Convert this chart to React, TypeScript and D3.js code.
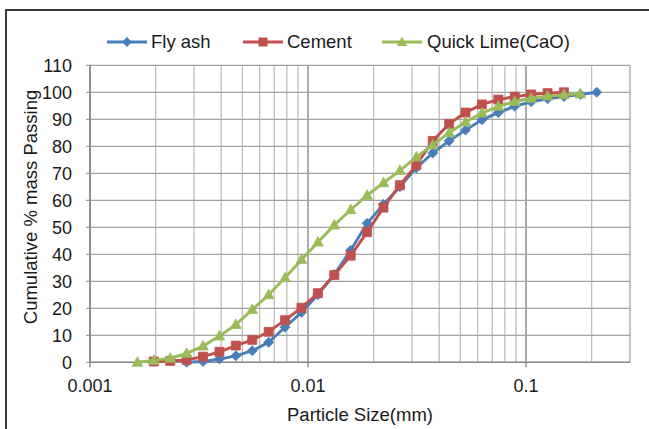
import React from "react";
import * as d3 from "d3";

// Particle sizes (mm) on a quarter-phi progression
const particleSizes = [
  0.00165, 0.001962, 0.002333, 0.002775, 0.0033, 0.003924, 0.004667, 0.00555,
  0.0066, 0.007849, 0.009334, 0.0111, 0.0132, 0.0157, 0.01867, 0.0222, 0.0264,
  0.0314, 0.03734, 0.0444, 0.0528, 0.06279, 0.07467, 0.0888, 0.1056, 0.1256,
  0.1493, 0.1776, 0.2112,
];

// Cumulative % mass passing per size (null = not measured)
const flyAshPassing: (number | null)[] = [
  null, null, null, 0, 0.3, 1.2, 2.4, 4.3, 7.4, 13, 18.5, 25, 32.5, 41.5, 51.5,
  58.5, 65, 72, 77.5, 82, 86, 89.8, 92.5, 94.8, 96.5, 97.6, 98.4, 99.2, 100,
];
const cementPassing: (number | null)[] = [
  null, 0.3, 0.5, 0.9, 2.1, 3.9, 6.2, 8.3, 11.3, 15.6, 20.2, 25.6, 32.3, 39.5,
  48.2, 57.3, 65.6, 73, 82, 88.3, 92.5, 95.5, 97.3, 98.4, 99.2, 99.7, 100,
  null, null,
];
const quickLimePassing: (number | null)[] = [
  0, 0.7, 1.5, 3.3, 6, 9.7, 14, 19.5, 25, 31.3, 38, 44.5, 50.8, 56.5, 61.8,
  66.5, 71, 76, 80.5, 85, 89, 92.3, 94.8, 96.6, 97.8, 98.6, 99.1, 99.4, null,
];

const seriesNames = ["Fly ash", "Cement", "Quick Lime(CaO)"];
const seriesColors = ["#4a7ebb", "#c0504d", "#9bbb59"];
const seriesMarkers = ["diamond", "square", "triangle"];
const seriesValues = [flyAshPassing, cementPassing, quickLimePassing];

const xMajorTicks = [0.001, 0.01, 0.1];
const xTickLabels = ["0.001", "0.01", "0.1"];
const yTicks = [0, 10, 20, 30, 40, 50, 60, 70, 80, 90, 100, 110];

const W = 649;
const H = 429;
const plot = { left: 90, right: 630, top: 65.3, bottom: 362.3 };
const FONT = "'Liberation Sans', Arial, sans-serif";

function markerPath(kind: string): string {
  if (kind === "diamond") {
    const r = 5;
    return `M0,${-r}L${r},0L0,${r}L${-r},0Z`;
  }
  if (kind === "square") {
    const s = 4.5;
    return `M${-s},${-s}H${s}V${s}H${-s}Z`;
  }
  const r = 5.6;
  return `M0,${-r}L${r * 0.95},${r * 0.7}L${-r * 0.95},${r * 0.7}Z`;
}

export default function App() {
  const x = d3.scaleLog().domain([0.001, 0.3]).range([plot.left, plot.right]);
  const y = d3.scaleLinear().domain([0, 110]).range([plot.bottom, plot.top]);

  // minor decade gridlines 2..9 × 10^k
  const minorTicks: number[] = [];
  for (const base of [0.001, 0.01, 0.1]) {
    for (let m = 2; m <= 9; m++) {
      const v = base * m;
      if (v < 0.3 - 1e-9) minorTicks.push(v);
    }
  }

  const line = d3
    .line<[number, number | null]>()
    .defined((d) => d[1] !== null)
    .x((d) => x(d[0]))
    .y((d) => y(d[1] as number));

  const legendItems = [
    { lx: 107, tx: 151 },
    { lx: 243, tx: 287 },
    { lx: 382, tx: 427 },
  ];

  return (
    <svg
      width={W}
      height={H}
      style={{ position: "absolute", left: 0, top: 0, background: "#fff" }}
      fontFamily={FONT}
    >
      <rect x={0} y={0} width={W} height={H} fill="#fff" />
      {/* outer frame */}
      <path d={`M6,${H + 5}V10H${W + 5}`} fill="none" stroke="#3a3a3a" strokeWidth={2} />

      {/* gridlines */}
      {minorTicks.map((t, i) => (
        <line key={"mn" + i} x1={x(t)} x2={x(t)} y1={plot.top} y2={plot.bottom} stroke="#bdbdbd" strokeWidth={1.3} />
      ))}
      {xMajorTicks.map((t, i) => (
        <line key={"mj" + i} x1={x(t)} x2={x(t)} y1={plot.top} y2={plot.bottom + 5} stroke="#878787" strokeWidth={1.4} />
      ))}
      {yTicks.map((t) => (
        <line key={"gy" + t} x1={plot.left - 4} x2={plot.right} y1={y(t)} y2={y(t)} stroke="#a3a3a3" strokeWidth={1.3} />
      ))}
      <line x1={plot.right} x2={plot.right} y1={plot.top} y2={plot.bottom} stroke="#a3a3a3" strokeWidth={1.3} />
      <line x1={plot.left} x2={plot.left} y1={plot.top} y2={plot.bottom} stroke="#878787" strokeWidth={1.4} />
      <line x1={plot.left} x2={plot.right} y1={plot.bottom} y2={plot.bottom} stroke="#878787" strokeWidth={1.4} />

      {/* y tick labels */}
      {yTicks.map((t) => (
        <text key={"ty" + t} x={72} y={y(t)} dy="0.35em" textAnchor="end" fontSize={18} fill="#1a1a1a">
          {t}
        </text>
      ))}
      {/* x tick labels */}
      {xMajorTicks.map((t, i) => (
        <text key={"tx" + i} x={x(t)} y={392} textAnchor="middle" fontSize={18} fill="#1a1a1a">
          {xTickLabels[i]}
        </text>
      ))}

      {/* axis titles */}
      <text x={(plot.left + plot.right) / 2} y={421} textAnchor="middle" fontSize={18.5} fill="#1a1a1a">
        Particle Size(mm)
      </text>
      <text
        transform={`translate(37,${207}) rotate(-90)`}
        textAnchor="middle"
        fontSize={18.5}
        fill="#1a1a1a"
      >
        Cumulative % mass Passing
      </text>

      {/* series */}
      {seriesValues.map((vals, si) => {
        const pts = particleSizes.map((s, i) => [s, vals[i]] as [number, number | null]);
        return (
          <g key={"s" + si}>
            <path d={line(pts) || ""} fill="none" stroke={seriesColors[si]} strokeWidth={2.9} />
            {pts
              .filter((p) => p[1] !== null)
              .map((p, i) => (
                <path
                  key={i}
                  d={markerPath(seriesMarkers[si])}
                  transform={`translate(${x(p[0])},${y(p[1] as number)})`}
                  fill={seriesColors[si]}
                  stroke={seriesColors[si]}
                  strokeWidth={0.8}
                />
              ))}
          </g>
        );
      })}

      {/* legend */}
      {seriesNames.map((name, si) => {
        const it = legendItems[si];
        return (
          <g key={"lg" + si}>
            <line x1={it.lx} x2={it.lx + 40} y1={42} y2={42} stroke={seriesColors[si]} strokeWidth={2.9} />
            <path d={markerPath(seriesMarkers[si])} transform={`translate(${it.lx + 20},42)`} fill={seriesColors[si]} />
            <text x={it.tx} y={42} dy="0.35em" fontSize={18.5} fill="#1a1a1a">
              {name}
            </text>
          </g>
        );
      })}
    </svg>
  );
}
